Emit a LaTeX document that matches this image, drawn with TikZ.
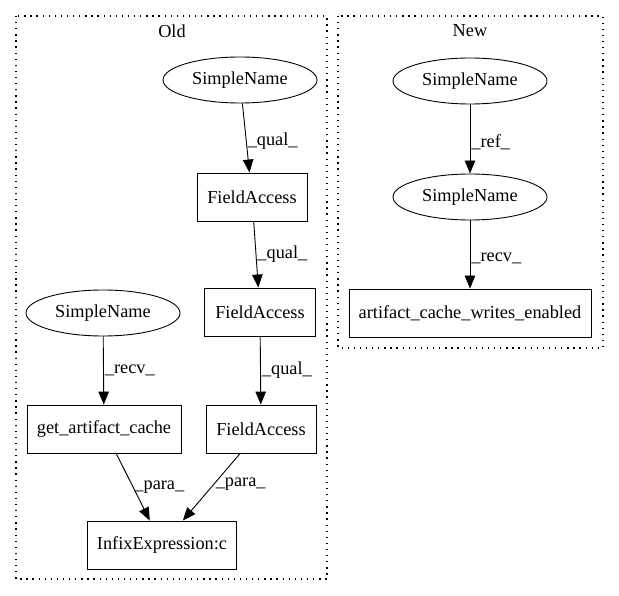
\documentclass[tikz,border=0pt]{standalone}
\usepackage{fontspec}
\setmainfont{Liberation Serif}
\usetikzlibrary{shapes.geometric,arrows.meta}
\begin{document}
\begin{tikzpicture}[x=1pt,y=-1pt,
  every node/.style={font=\fontsize{18.3}{21}\selectfont},
  ell/.style={draw,ellipse,line width=0.9pt,minimum width=154pt,minimum height=46pt,inner sep=0pt},
  box/.style={draw,rectangle,line width=0.9pt,minimum height=48pt,inner sep=0pt},
  arr/.style={draw,line width=0.9pt,-{Triangle[length=13pt,width=10.5pt]}},
  lbl/.style={anchor=west,inner sep=1pt},
  clus/.style={draw,line width=1.1pt,dash pattern=on 1.3pt off 4.8pt}]
\useasboundingbox (0,0) rectangle (619,596);
% clusters
\draw[clus] (16,16) rectangle (327,579);
\draw[clus] (338,16) rectangle (603,348);
\node (oldlbl) at (172,31) {Old};
\node (newlbl) at (470,31) {New};
% Old nodes
\node[ell] (sn1) at (240,80) {SimpleName};
\node[box,minimum width=110pt] (fa1) at (252,197) {FieldAccess};
\node[box,minimum width=111pt] (fa2) at (260,312) {FieldAccess};
\node[box,minimum width=110pt] (fa3) at (261,429) {FieldAccess};
\node[ell] (sn2) at (103,313) {SimpleName};
\node[box,minimum width=154pt] (gac) at (104,429) {get\_artifact\_cache};
\node[box,minimum width=149pt] (infix) at (162,545) {InfixExpression:c};
% New nodes
\node[ell] (sn3) at (470,81) {SimpleName};
\node[ell] (sn4) at (470,197) {SimpleName};
\node[box,minimum width=242pt] (acwe) at (470,313) {artifact\_cache\_writes\_enabled};
% edges
\draw[arr] (sn1) -- node[lbl,pos=0.55] {\_qual\_} (fa1);
\draw[arr] (fa1) -- node[lbl,pos=0.5] {\_qual\_} (fa2);
\draw[arr] (fa2) -- node[lbl,pos=0.5] {\_qual\_} (fa3);
\draw[arr] (sn2) -- node[lbl,pos=0.5] {\_recv\_} (gac);
\draw[arr] (gac) -- node[lbl,pos=0.5] {\_para\_} (infix);
\draw[arr] (fa3) -- node[lbl,pos=0.45] {\_para\_} (infix);
\draw[arr] (sn3) -- node[lbl,pos=0.55] {\_ref\_} (sn4);
\draw[arr] (sn4) -- node[lbl,pos=0.55] {\_recv\_} (acwe);
\end{tikzpicture}
\end{document}
